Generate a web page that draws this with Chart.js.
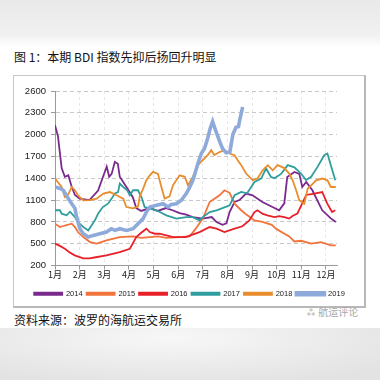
<!DOCTYPE html>
<html><head><meta charset="utf-8">
<script src="https://cdn.jsdelivr.net/npm/chart.js@4.4.1/dist/chart.umd.min.js"></script>
<style>
html,body{margin:0;padding:0;width:380px;height:380px;overflow:hidden;background:#fff;position:relative;}
#bgTop{position:absolute;left:0;top:0;width:380px;height:47px;background:linear-gradient(to bottom,#e9e9e9,#f1f1f1 75%,#fff);}
#bgBot{position:absolute;left:0;top:328px;width:380px;height:52px;background:radial-gradient(ellipse 70% 90% at 45% 20%,#f7f7f7,#e3e3e3);}
#title{position:absolute;left:14px;top:49px;font-family:"Noto Sans CJK SC";font-size:12px;line-height:16px;color:#111;white-space:nowrap;}
#frame{position:absolute;left:13px;top:75px;width:350px;height:230px;border:1px solid #c6c6c6;border-right:2px solid #b8b8b8;border-bottom:2px solid #b8b8b8;}
#src{position:absolute;left:14px;top:312px;font-family:"Noto Sans CJK SC";font-size:12px;line-height:16px;color:#111;white-space:nowrap;}
#wm{position:absolute;left:306px;top:305px;font-family:"Noto Sans CJK SC";font-size:10px;line-height:14px;color:#a8a8a8;white-space:nowrap;}
#wrap{position:absolute;left:14px;top:76px;width:351px;height:240px;}
</style></head>
<body>
<div id="bgTop"></div><div id="bgBot"></div>
<div id="title">图 1：本期 BDI 指数先抑后扬回升明显</div>
<div id="frame"></div>
<div id="src">资料来源：波罗的海航运交易所</div>
<div id="wm">⁂ 航运评论</div>
<div id="wrap"><canvas id="c" width="351" height="240"></canvas></div>
<script>
const monthLabels = ['1月','2月','3月','4月','5月','6月','7月','8月','9月','10月','11月','12月'];
const seriesNames = ['2014','2015','2016','2017','2018','2019'];

const m2014 = [0,0.12,0.27,0.4,0.54,0.68,0.81,1.0,1.4,1.75,1.95,2.1,2.2,2.3,2.43,2.55,2.63,2.9,3.16,3.3,3.5,3.85,4.17,4.5,4.77,5.06,5.33,5.59,6.0,6.36,6.56,6.8,6.96,7.09,7.29,7.49,7.76,8.02,8.42,8.83,9.1,9.31,9.43,9.72,9.92,10.04,10.2,10.45,10.85,11.2,11.4];
const v2014 = [2130,1980,1540,1420,1440,1280,1170,1120,1100,1230,1420,1560,1420,1460,1625,1600,1420,1280,1140,990,950,990,950,990,960,920,900,866,845,866,797,760,780,935,1073,1100,1190,1166,1073,1004,959,1055,1418,1487,1460,1280,1349,1235,959,848,797];

const m2015 = [0,0.2,0.4,0.68,0.81,0.93,1.15,1.42,1.69,2.09,2.63,3.16,3.5,3.85,4.2,4.52,5.06,5.47,5.7,6.0,6.28,6.4,6.68,6.88,7.09,7.29,7.56,7.77,8.1,8.42,8.8,9.0,9.3,9.51,9.72,10.0,10.4,10.8,11.2,11.4];
const v2015 = [775,729,750,775,729,660,591,522,500,545,591,600,580,591,600,580,591,600,700,845,1073,1100,1166,1235,1200,1050,960,900,820,800,760,700,640,600,530,540,500,522,476,476];

const m2016 = [0,0.2,0.4,0.6,0.8,1.15,1.4,1.6,2.09,2.63,3.04,3.3,3.5,3.71,3.85,4.05,4.25,4.52,4.8,5.3,5.87,6.28,6.56,6.88,7.29,7.61,7.89,8.1,8.22,8.42,8.62,8.91,9.1,9.31,9.51,9.64,9.84,10.0,10.2,10.53,10.85,11.05,11.25,11.38];
const v2016 = [500,470,430,380,340,297,297,310,338,383,430,591,650,706,660,637,637,614,591,591,660,729,706,660,706,740,820,935,959,913,890,866,880,866,845,880,913,1028,1170,1190,1211,1055,935,959];

const m2017 = [0,0.2,0.27,0.47,0.61,0.81,0.93,1.15,1.35,1.62,1.75,1.94,2.15,2.3,2.43,2.56,2.63,2.77,2.93,3.04,3.17,3.37,3.51,3.64,3.85,4.12,4.52,4.93,5.33,5.59,5.87,6.0,6.28,6.56,6.8,7.09,7.29,7.56,7.8,8.1,8.37,8.57,8.77,8.91,9.18,9.45,9.72,9.99,10.19,10.4,10.66,10.93,11.06,11.2,11.38];
const v2017 = [960,960,913,890,940,866,797,729,683,821,913,1004,1050,1120,1190,1210,1327,1280,1235,1166,1235,1235,1142,1004,986,959,890,845,866,866,821,866,935,959,990,1028,1166,1211,1193,1349,1396,1534,1418,1400,1460,1580,1550,1465,1375,1420,1556,1717,1740,1580,1372];

const m2018 = [0,0.27,0.4,0.54,0.68,0.81,0.94,1.15,1.42,1.69,1.96,2.23,2.5,2.77,2.9,3.17,3.37,3.44,3.58,3.71,3.85,3.98,4.18,4.32,4.45,4.65,4.79,5.06,5.27,5.4,5.6,5.8,6.0,6.2,6.34,6.47,6.68,6.88,7.09,7.29,7.42,7.56,7.76,8.03,8.23,8.43,8.64,8.84,9.04,9.31,9.51,9.65,9.79,9.92,10.12,10.26,10.4,10.6,10.86,11.06,11.2,11.4];
const v2018 = [1396,1280,1142,1180,1280,1235,1160,1097,1100,1120,1190,1210,1166,1120,1004,986,1010,1150,1257,1372,1441,1487,1460,1280,1120,1150,1303,1441,1420,1303,1420,1580,1648,1717,1786,1720,1760,1786,1740,1717,1648,1580,1465,1372,1400,1510,1580,1510,1580,1540,1465,1372,1235,1097,1050,1257,1303,1372,1396,1372,1280,1280];

const m2019 = [0,0.2,0.34,0.54,0.68,0.81,0.88,1.01,1.15,1.35,1.55,1.82,2.09,2.29,2.43,2.63,2.9,3.17,3.37,3.58,3.71,3.85,4.12,4.39,4.59,4.72,4.93,5.13,5.33,5.44,5.6,5.8,5.94,6.07,6.2,6.3,6.4,6.5,6.68,6.8,6.95,7.1,7.22,7.35,7.45,7.5,7.62];
const v2019 = [1280,1260,1235,1120,1050,986,866,706,637,591,614,637,660,706,683,706,683,706,775,845,935,1004,1028,1050,1004,1040,1050,1097,1190,1257,1372,1600,1740,1810,1950,2085,2180,2080,1910,1810,1750,1760,2000,2100,2110,2200,2380];

const xs = [m2014,m2015,m2016,m2017,m2018,m2019];
const ys = [v2014,v2015,v2016,v2017,v2018,v2019];
const colors = ['#7a2a8c','#f2733c','#e8202a','#2f9e9e','#e88c2c','#8eaadb'];
const widths = [1.8,1.8,1.8,1.8,1.8,3.6];

const datasets = seriesNames.map((n,i)=>({
  label:n,
  data: xs[i].map((x,j)=>({x:x,y:ys[i][j]})),
  borderColor: colors[i], backgroundColor: colors[i],
  borderWidth: widths[i], pointRadius:0, tension:0, fill:false,
  order: 5-i
}));

new Chart(document.getElementById('c'),{
  type:'line',
  data:{datasets},
  options:{
    responsive:false, animation:false, devicePixelRatio:1,
    layout:{padding:{left:0,right:0,top:15,bottom:8.5}},
    plugins:{
      legend:{position:'bottom',labels:{boxWidth:28,boxHeight:2,padding:4,color:'#222',
        sort:(a,b)=>a.datasetIndex-b.datasetIndex,
        font:{family:'"Liberation Sans", Arial',size:7.5}}},
      tooltip:{enabled:false}
    },
    scales:{
      x:{type:'linear',min:0,max:11.45,
        afterFit:(s)=>{s.height=20.5;},
        ticks:{stepSize:1,includeBounds:false,autoSkip:false,maxRotation:0,padding:0,color:'#222',
          font:{family:'"Noto Sans CJK SC"',size:9},
          callback:(v)=>monthLabels[v]},
        grid:{color:'#e6e6e6',tickLength:4,tickColor:'#9a9a9a'},
        border:{display:true,color:'#9a9a9a',width:1,dash:[3,3]}
      },
      y:{min:200,max:2600,
        afterFit:(s)=>{s.width=41;},
        ticks:{stepSize:300,padding:5,color:'#222',font:{family:'"Liberation Sans", Arial',size:9.5},
          callback:(v)=>String(v)},
        grid:{color:'#c8c8c8',tickLength:4,tickColor:'#9a9a9a'},
        border:{display:true,color:'#9a9a9a',width:1,dash:[4,3]}
      },
      y2:{position:'right',display:true,
        afterFit:(s)=>{s.width=28;},
        ticks:{display:false},grid:{display:false},border:{display:false}
      }
    }
  }
});
</script>
</body></html>
